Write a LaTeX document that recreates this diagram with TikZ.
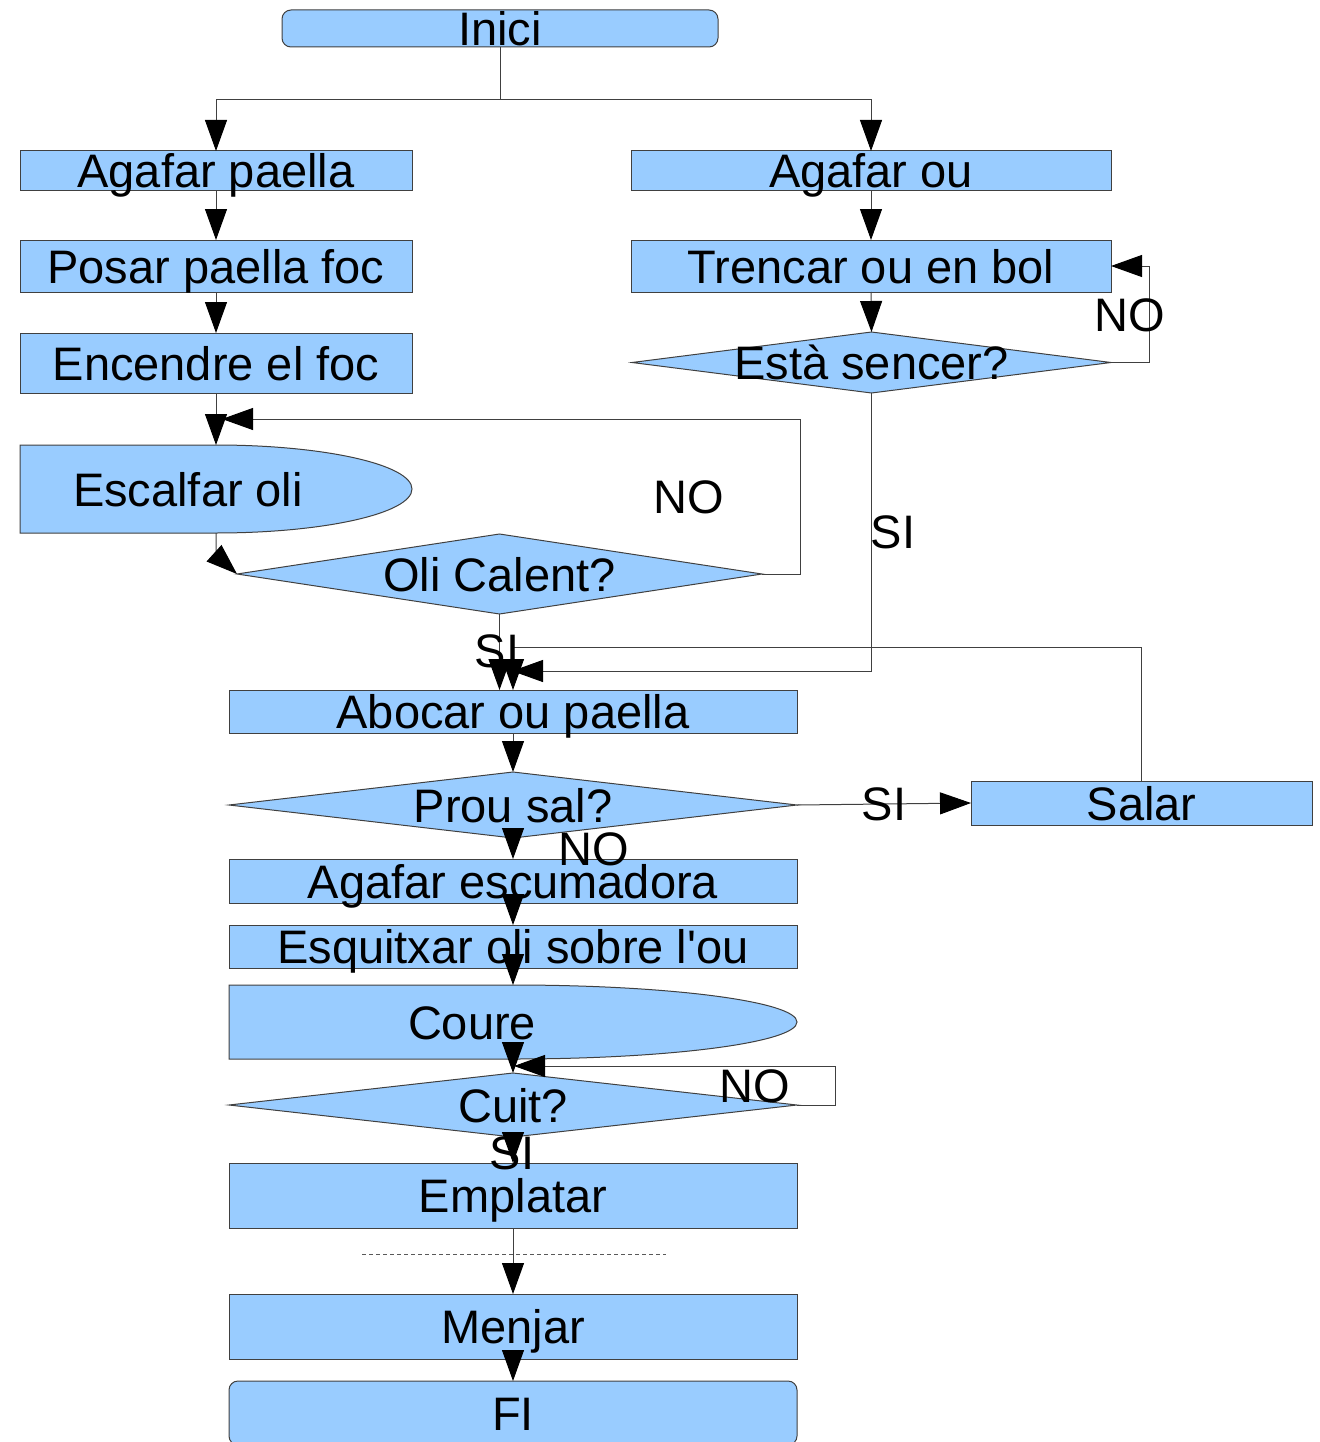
\documentclass[tikz,border=0pt]{standalone}
\usepackage{fontspec}
\setmainfont{Liberation Sans}
\usetikzlibrary{shapes.geometric,arrows.meta,backgrounds}
\definecolor{boxblue}{RGB}{153,204,255}
\definecolor{linegray}{RGB}{64,64,64}
\begin{document}
\begin{tikzpicture}[x=1pt,y=-1pt,
  every node/.style={inner sep=0pt, outer sep=0pt},
  txt/.style={font=\fontsize{47}{50}\selectfont, text height=34pt, text depth=0pt, inner sep=0pt},
  lbl/.style={label={[txt]center:#1}},
  box/.style 2 args={rectangle, draw=linegray, fill=boxblue, line width=1pt, minimum width=#1, minimum height=#2},
  rbox/.style 2 args={rectangle, rounded corners=9pt, draw=linegray, fill=boxblue, line width=1pt, minimum width=#1, minimum height=#2},
  dia/.style 2 args={diamond, draw=linegray, fill=boxblue, line width=1pt, minimum width=#1, minimum height=#2},
  hold/.style 2 args={rectangle, draw=none, minimum width=#1, minimum height=#2},
  delayshape/.style={draw=linegray, fill=boxblue, line width=1pt},
  arr/.style={draw=linegray, line width=1pt, -{Triangle[length=31pt,width=22pt,color=black]}},
  ln/.style={draw=linegray, line width=1pt},
]
\useasboundingbox (0,0) rectangle (1319,1442);
\clip (0,0) rectangle (1319,1442);

% nodes
\node[rbox={436pt}{37pt}, lbl=Inici] (inici) at (500,28.5) {};
\node[box={392pt}{40pt}, lbl=Agafar paella] (paella) at (216,171) {};
\node[box={392pt}{52pt}, lbl=Posar paella foc] (posar) at (216,266) {};
\node[box={392pt}{60pt}, lbl=Encendre el foc] (encendre) at (216,363) {};
\node[hold={392pt}{88pt}, label={[txt,xshift=-28pt]center:Escalfar oli}] (escalfar) at (216,489) {};
\node[dia={525pt}{80pt}, lbl=Oli Calent?] (oli) at (499.5,574) {};
\node[box={480pt}{40pt}, lbl=Agafar ou] (ou) at (871,171) {};
\node[box={480pt}{52pt}, lbl=Trencar ou en bol] (trencar) at (871,266) {};
\node[dia={479pt}{61pt}, lbl=Està sencer?] (sencer) at (871.5,362.5) {};
\node[box={568pt}{43pt}, lbl=Abocar ou paella] (abocar) at (513,711.5) {};
\node[dia={568pt}{66pt}, lbl=Prou sal?] (prou) at (513,805) {};
\node[box={341pt}{44pt}, lbl=Salar] (salar) at (1141.5,803) {};
\node[box={568pt}{44pt}, lbl=Agafar escumadora] (escum) at (513,881) {};
\node[box={568pt}{43pt}, lbl={Esquitxar oli sobre l\textquotesingle ou}] (esquit) at (513,946.5) {};
\node[hold={568pt}{74pt}, label={[txt,xshift=-41pt]center:Coure}] (coure) at (513,1022) {};
\node[dia={568pt}{64pt}, lbl=Cuit?] (cuit) at (513,1105) {};
\node[box={568pt}{65pt}, lbl=Emplatar] (emplatar) at (513,1195.5) {};
\node[box={568pt}{65pt}, lbl=Menjar] (menjar) at (513,1326.5) {};
\node[rbox={568pt}{64pt}, lbl=FI] (fi) at (513,1413) {};

% delay shapes
\begin{scope}[on background layer]
\path[delayshape] (escalfar.north west) -- (escalfar.north)
  arc[start angle=90, end angle=-90, x radius=196pt, y radius=44pt]
  -- (escalfar.south west) -- cycle;
\path[delayshape] (coure.north west) -- (coure.north)
  arc[start angle=90, end angle=-90, x radius=284pt, y radius=37pt]
  -- (coure.south west) -- cycle;
\end{scope}

% helper coordinates
\coordinate (split) at (500,100);
\coordinate (jloop) at (222,419);
\coordinate (jsi) at (512,671);
\coordinate (jsalar) at (513,647);
\coordinate (jcuit) at (514,1066);

% connectors
\draw[ln] (inici.south) -- (split);
\draw[arr] (split) -| (paella.north);
\draw[arr] (split) -| (ou.north);
\draw[arr] (paella.south) -- (posar.north);
\draw[arr] (posar.south) -- (encendre.north);
\draw[arr] (encendre.south) -- (escalfar.north);
\draw[arr] (escalfar.south) -- ++(0,22) -- (oli.west);
\draw[arr] (oli.east) -- ++(38,0) |- (jloop);
\draw[arr] (oli.south) -- (oli.south |- abocar.north);
\draw[arr] (ou.south) -- (trencar.north);
\draw[arr] (trencar.south) -- (sencer.north);
\draw[arr] (sencer.east) -- ++(38,0) |- (trencar.east);
\draw[arr] (sencer.south) |- (jsi);
\draw[arr] (salar.north) |- (jsalar) -- (abocar.north);
\draw[arr] (abocar.south) -- (prou.north);
\draw[arr] (prou.east) -- (salar.west);
\draw[arr] (prou.south) -- (escum.north);
\draw[arr] (escum.south) -- (esquit.north);
\draw[arr] (esquit.south) -- (coure.north);
\draw[arr] (coure.south) -- (cuit.north);
\draw[arr] (cuit.east) -- ++(38,0) |- (jcuit);
\draw[arr] (cuit.south) -- (emplatar.north);
\draw[arr] (emplatar.south) -- (menjar.north);
\draw[arr] (menjar.south) -- (fi.north);

% dashed separator
\draw[draw=gray!70!black, line width=0.8pt, dash pattern=on 4pt off 3pt] (362,1254) -- (666,1254);

% connector labels
\node[txt] (no1) at (689,496) {NO};
\node[txt] (si1) at (893,531) {SI};
\node[txt] (no2) at (1130,314) {NO};
\node[txt] (si2) at (497,650) {SI};
\node[txt] (si3) at (884,803) {SI};
\node[txt] (no3) at (594,848) {NO};
\node[txt] (no4) at (755,1085) {NO};
\node[txt] (si4) at (512,1152) {SI};
\end{tikzpicture}
\end{document}
